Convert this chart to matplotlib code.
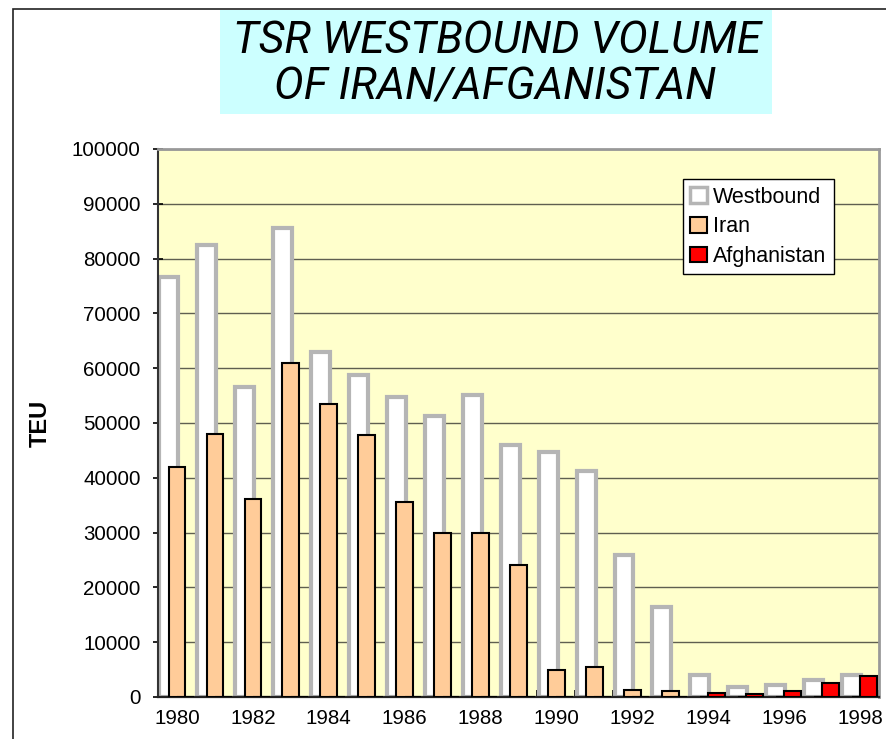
import numpy as np
import matplotlib
matplotlib.use('Agg')
import matplotlib.pyplot as plt
from matplotlib.patches import Rectangle, Patch

plt.rcParams['font.family'] = ['Liberation Sans', 'DejaVu Sans']

# data (TEU)
years = list(range(1980, 1999))
westbound = [76700, 82400, 56500, 85500, 62900, 58700, 54700, 51300, 55200, 46000,
             44700, 41300, 26000, 16500, 4100, 1900, 2100, 3100, 4100]
iran = [42000, 48000, 36100, 60900, 53500, 47800, 35600, 29900, 29900, 24100,
        4900, 5500, 1300, 1100, 0, 0, 0, 0, 0]
afghanistan = [0, 0, 0, 0, 0, 0, 0, 0, 0, 0,
               0, 0, 0, 0, 700, 600, 1100, 2500, 3900]
tick_labels = [str(y) for y in years[::2]]

fig = plt.figure(figsize=(8.87, 7.39), dpi=100)

# outer chart frame (runs off the right/bottom edge)
fig.add_artist(Rectangle((13 / 887, -0.1), 2, 1 - 9 / 739 + 0.1, transform=fig.transFigure,
                         fill=False, edgecolor='#222222', linewidth=1.2, zorder=0))

# title box
fig.add_artist(Rectangle((220 / 887, 1 - 114 / 739), 552 / 887, 104 / 739,
                         transform=fig.transFigure, facecolor='#ccffff',
                         edgecolor='none', zorder=1))
title_font = dict(ha='center', va='baseline', fontsize=32, style='italic', zorder=2,
                  family=['Roboto', 'Liberation Sans'])
fig.text(497 / 887, 1 - 53 / 739, 'TSR WESTBOUND VOLUME', **title_font)
fig.text(495 / 887, 1 - 100 / 739, 'OF IRAN/AFGANISTAN', **title_font)

ax = fig.add_axes([158 / 887, 42 / 739, 721 / 887, 548 / 739])
ax.set_facecolor('#ffffcc')

x = np.arange(len(years))
ax.bar(x - 0.22, westbound, width=0.5, color='white', edgecolor='#b5b5b5',
       linewidth=3, zorder=2)
ax.bar(x, iran, width=0.44, color='#ffcc99', edgecolor='black', linewidth=1.5, zorder=3)
ax.bar(x + 0.22, afghanistan, width=0.44, color='#ff0000', edgecolor='black',
       linewidth=1.5, zorder=4)

ax.set_xlim(-0.5, len(years) - 0.5)
ax.set_ylim(0, 100000)
ax.set_yticks(np.arange(0, 100001, 10000))
ax.set_yticklabels([str(v) for v in range(0, 100001, 10000)])
ax.set_xticks(x[::2])
ax.set_xticklabels(tick_labels)
ax.set_xticks(np.arange(-0.5, len(years)), minor=True)
ax.tick_params(axis='x', which='major', length=0, pad=9, labelsize=14.8)
ax.tick_params(axis='x', which='minor', length=5, direction='in', width=1.2)
ax.tick_params(axis='y', length=7, direction='inout', width=1.2, pad=9, labelsize=14.8)

ax.yaxis.grid(True, color='#5f5f50', linewidth=1.0)
ax.set_axisbelow(True)

ax.spines['left'].set_color('#333333')
ax.spines['left'].set_linewidth(1.5)
ax.spines['bottom'].set_color('#222222')
ax.spines['bottom'].set_linewidth(1.6)
ax.spines['top'].set_color('#999999')
ax.spines['top'].set_linewidth(2)
ax.spines['right'].set_color('#999999')
ax.spines['right'].set_linewidth(2)

ax.set_ylabel('TEU', fontsize=17, fontweight='bold')
ax.yaxis.set_label_coords(-0.147, 0.5)

handles = [Patch(facecolor='white', edgecolor='#b5b5b5', linewidth=2.5, label='Westbound'),
           Patch(facecolor='#ffcc99', edgecolor='black', linewidth=1.5, label='Iran'),
           Patch(facecolor='#ff0000', edgecolor='black', linewidth=1.5, label='Afghanistan')]
leg = ax.legend(handles=handles, loc='upper left', bbox_to_anchor=(0.728, 0.945),
                borderaxespad=0, fontsize=15.5, fancybox=False, framealpha=1,
                edgecolor='black', handlelength=0.75, handleheight=0.75,
                handletextpad=0.3, labelspacing=0.4, borderpad=0.35)
leg.get_frame().set_linewidth(1.0)
leg.set_zorder(10)

fig.savefig('out.png', dpi=100)
